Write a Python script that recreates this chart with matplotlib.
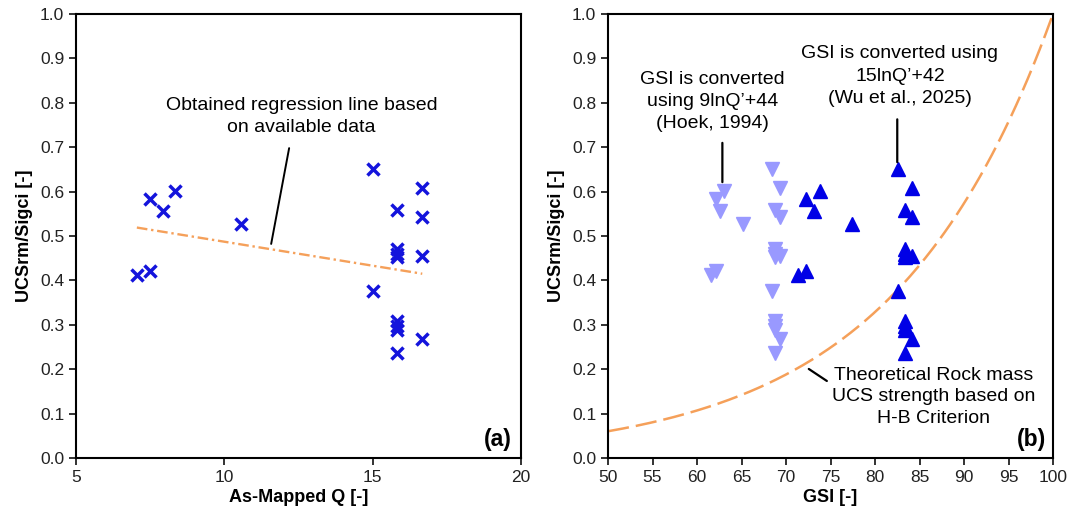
import numpy as np
import matplotlib
matplotlib.use('Agg')
import matplotlib.pyplot as plt

plt.rcParams['font.family'] = ['Liberation Sans', 'DejaVu Sans']

# data
q_mapped = [7.05, 7.5, 7.5, 7.93, 8.35, 10.55, 15.0, 15.0,
            15.82, 15.82, 15.82, 15.82, 15.82, 15.82, 15.82, 15.82,
            16.67, 16.67, 16.67, 16.67]
ucs_ratio = [0.412, 0.422, 0.583, 0.557, 0.602, 0.528, 0.650, 0.375,
             0.558, 0.470, 0.460, 0.453, 0.308, 0.298, 0.288, 0.236,
             0.609, 0.543, 0.455, 0.267]

# GSI from 9lnQ'+44 (Hoek, 1994) and 15lnQ'+42 (Wu et al., 2025)
gsi_hoek = [61.6, 62.1, 62.1, 62.6, 63.0, 65.2, 68.4, 68.4,
            68.8, 68.8, 68.8, 68.8, 68.8, 68.8, 68.8, 68.8,
            69.3, 69.3, 69.3, 69.3]
gsi_wu = [71.4, 72.2, 72.2, 73.1, 73.8, 77.4, 82.6, 82.6,
          83.4, 83.4, 83.4, 83.4, 83.4, 83.4, 83.4, 83.4,
          84.2, 84.2, 84.2, 84.2]

reg_q = [7.05, 16.67]
reg_ratio = [0.519, 0.415]

gsi_grid = np.linspace(50, 100, 300)

orange = '#F5A05A'


def hoek_brown_ratio(gsi, d=0.0):
    s = np.exp((gsi - 100) / (9 - 3 * d))
    a = 0.5 + (np.exp(-gsi / 15) - np.exp(-20 / 3)) / 6
    return s ** a


fig = plt.figure(figsize=(10.71, 5.16), dpi=100)
ax1 = fig.add_axes([0.071, 0.1124, 0.4155, 0.8605])
ax2 = fig.add_axes([0.5677, 0.1124, 0.4155, 0.8605])

# (a) ratio vs Q
ax1.plot(reg_q, reg_ratio, color=orange, lw=1.7, dashes=(4.5, 1.6, 1, 1.6))
ax1.plot(q_mapped, ucs_ratio, linestyle='none', marker='x', ms=9, mew=2.5,
         color='#1414DC')
ax1.annotate('', xy=(11.56, 0.476), xytext=(12.2, 0.704),
             arrowprops=dict(arrowstyle='-', color='black', lw=1.4))
ax1.text(12.6, 0.77, 'Obtained regression line based\non available data',
         ha='center', va='center', fontsize=14, linespacing=1.4)
ax1.text(19.7, 0.042, '(a)', ha='right', va='center', fontsize=16.5,
         fontweight='bold')
ax1.set_xlim(5, 20)
ax1.set_xticks([5, 10, 15, 20])
ax1.set_xlabel('As-Mapped Q [-]', fontsize=13, fontweight='bold', labelpad=3)

# (b) ratio vs GSI
ax2.plot(gsi_grid, hoek_brown_ratio(gsi_grid), color=orange, lw=1.8,
         dashes=(8.5, 2.8))
ax2.plot(gsi_hoek, ucs_ratio, linestyle='none', marker='v', ms=10.5,
         color='#9999FF', mec='#9999FF')
ax2.plot(gsi_wu, ucs_ratio, linestyle='none', marker='^', ms=10.5,
         color='#0000E6', mec='#0000E6')
ax2.annotate('', xy=(62.85, 0.615), xytext=(62.85, 0.716),
             arrowprops=dict(arrowstyle='-', color='black', lw=1.6))
ax2.annotate('', xy=(82.5, 0.66), xytext=(82.5, 0.769),
             arrowprops=dict(arrowstyle='-', color='black', lw=1.6))
ax2.annotate('', xy=(74.85, 0.170), xytext=(72.3, 0.204),
             arrowprops=dict(arrowstyle='-', color='black', lw=1.6))
ax2.text(61.7, 0.803, "GSI is converted\nusing 9lnQ\u2019+44\n(Hoek, 1994)",
         ha='center', va='center', fontsize=14, linespacing=1.4)
ax2.text(82.8, 0.86, "GSI is converted using\n15lnQ\u2019+42\n(Wu et al., 2025)",
         ha='center', va='center', fontsize=14, linespacing=1.4)
ax2.text(86.6, 0.138, 'Theoretical Rock mass\nUCS strength based on\nH-B Criterion',
         ha='center', va='center', fontsize=14, linespacing=1.35)
ax2.text(99.2, 0.042, '(b)', ha='right', va='center', fontsize=16.5,
         fontweight='bold')
ax2.set_xlim(50, 100)
ax2.set_xticks(np.arange(50, 101, 5))
ax2.set_xlabel('GSI [-]', fontsize=13, fontweight='bold', labelpad=3)

for ax in (ax1, ax2):
    ax.set_ylim(0, 1.0)
    ax.set_yticks(np.arange(0, 1.01, 0.1))
    ax.set_yticklabels([f'{v:.1f}' for v in np.arange(0, 1.01, 0.1)])
    ax.set_ylabel('UCSrm/Sigci [-]', fontsize=13, fontweight='bold',
                  labelpad=5)
    ax.tick_params(direction='out', length=5, width=1.3, labelsize=12.5,
                   colors='#222222')
    for sp in ax.spines.values():
        sp.set_linewidth(1.5)

fig.savefig('out.png', dpi=100)
